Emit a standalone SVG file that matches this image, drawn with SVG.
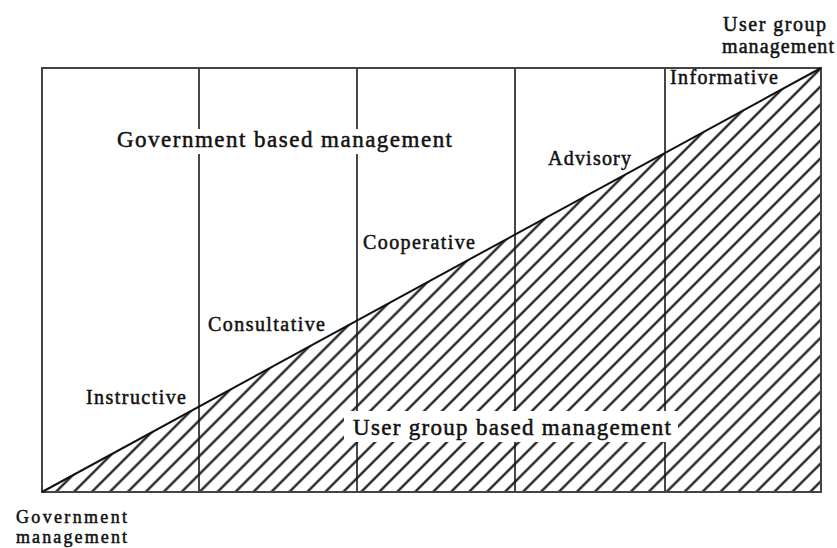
<svg xmlns="http://www.w3.org/2000/svg" width="837" height="548" viewBox="0 0 837 548">
  <defs>
    <style>
      .lbl { font-family: "Liberation Serif", "Times New Roman", serif; fill: #111; stroke: #111; stroke-width: 0.5; }
      .big { font-size: 23px; }
      .mid { font-size: 20px; }
      .small { font-size: 18px; }
      .frame { fill: none; stroke: #444; stroke-width: 2; }
      .div { stroke: #1a1a1a; stroke-width: 1.6; }
      .diag { stroke: #111; stroke-width: 2; }
      .knock { fill: #fff; }
    </style>
    <!-- diagonal "/" hatching, 18px horizontal pitch -->
    <pattern id="hatch" patternUnits="userSpaceOnUse" width="12.7" height="12.7" patternTransform="rotate(45)">
      <line x1="6.35" y1="-1" x2="6.35" y2="13.7" stroke="#111" stroke-width="2.2"/>
    </pattern>
    <clipPath id="tri">
      <polygon points="42,492 821,68 821,492"/>
    </clipPath>
  </defs>

  <!-- hatched share (user group based management) -->
  <g id="user-share">
    <rect x="42" y="68" width="779" height="424" fill="url(#hatch)" clip-path="url(#tri)"/>
  </g>

  <!-- stage dividers -->
  <g id="dividers">
    <line class="div" x1="199" y1="68" x2="199" y2="492"/>
    <line class="div" x1="357" y1="68" x2="357" y2="492"/>
    <line class="div" x1="515" y1="68" x2="515" y2="492"/>
    <line class="div" x1="665" y1="68" x2="665" y2="492"/>
  </g>

  <!-- outer frame and the dividing diagonal -->
  <g id="connectors">
    <rect class="frame" x="42" y="68" width="779" height="424"/>
    <line class="diag" x1="42" y1="492" x2="821" y2="68"/>
  </g>

  <!-- stage labels -->
  <g id="stage-instructive"><text class="lbl mid" x="86" y="404" textLength="100" lengthAdjust="spacing">Instructive</text></g>
  <g id="stage-consultative"><text class="lbl mid" x="208" y="331" textLength="117" lengthAdjust="spacing">Consultative</text></g>
  <g id="stage-cooperative"><text class="lbl mid" x="363" y="249" textLength="112" lengthAdjust="spacing">Cooperative</text></g>
  <g id="stage-advisory"><text class="lbl mid" x="548" y="165" textLength="83" lengthAdjust="spacing">Advisory</text></g>
  <g id="stage-informative"><text class="lbl mid" x="670" y="84" textLength="108" lengthAdjust="spacing">Informative</text></g>

  <!-- region labels, each on a white knock-out band -->
  <g id="region-government">
    <rect class="knock" x="113" y="129" width="343" height="25"/>
    <text class="lbl big" x="117" y="147" textLength="335" lengthAdjust="spacing">Government based management</text>
  </g>
  <g id="region-user">
    <rect class="knock" x="344" y="411" width="334" height="31"/>
    <text class="lbl big" x="353" y="435" textLength="318" lengthAdjust="spacing">User group based management</text>
  </g>

  <!-- end labels -->
  <g id="end-government">
    <text class="lbl small" x="16" y="523" textLength="111" lengthAdjust="spacing">Government</text>
    <text class="lbl small" x="16" y="543" textLength="111" lengthAdjust="spacing">management</text>
  </g>
  <g id="end-user">
    <text class="lbl mid" x="723" y="31" textLength="103" lengthAdjust="spacing">User group</text>
    <text class="lbl mid" x="722" y="53" textLength="112" lengthAdjust="spacing">management</text>
  </g>
</svg>
